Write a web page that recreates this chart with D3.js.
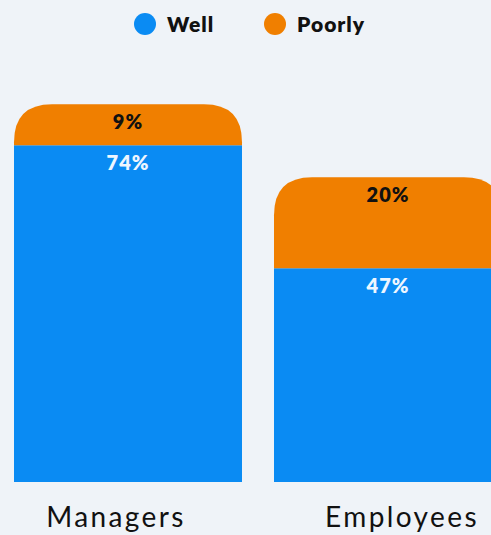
<!DOCTYPE html>
<html lang="en">
  <head>
    <meta charset="UTF-8" />
    <title>Well vs Poorly</title>
    <script src="https://d3js.org/d3.v7.min.js"></script>
    <style>
      body {
        margin: 0;
        background-color: #eff3f8;
        font-family: Lato, sans-serif;
      }
      svg {
        display: block;
      }
    </style>
  </head>
  <body>
    <svg width="491" height="535"></svg>

    <script>
      const categories = ['Managers', 'Employees'];
      const well = [74, 47];
      const poorly = [9, 20];
      const seriesNames = ['Well', 'Poorly'];
      const colors = ['#0a8bf3', '#f07f00'];
      const labelShift = [-12, 14];

      const svg = d3.select('svg');

      const x = d3
        .scaleBand()
        .domain(categories)
        .range([14, 502])
        .paddingInner(32 / 260)
        .paddingOuter(0);

      const y = d3.scaleLinear().domain([0, 100]).range([482, 27]);

      const rows = categories.map((c, i) => ({
        cat: c,
        well: well[i],
        poorly: poorly[i],
      }));

      const stack = d3.stack().keys(['well', 'poorly'])(rows);

      // rounded-top path for the top segment, plain rect for the bottom one
      function topRounded(x0, y0, w, h, r) {
        return `M${x0},${y0 + h}V${y0 + r}Q${x0},${y0} ${x0 + r},${y0}H${x0 + w - r}Q${x0 + w},${y0} ${x0 + w},${y0 + r}V${y0 + h}Z`;
      }

      stack.forEach((layer, li) => {
        svg
          .append('g')
          .selectAll('path')
          .data(layer)
          .join('path')
          .attr('fill', colors[li])
          .attr('d', (d) => {
            const x0 = x(d.data.cat);
            const y0 = y(d[1]);
            const h = y(d[0]) - y(d[1]);
            if (li === stack.length - 1) return topRounded(x0, y0, x.bandwidth(), h, 38);
            return `M${x0},${y0}h${x.bandwidth()}v${h}h${-x.bandwidth()}Z`;
          });

        svg
          .append('g')
          .selectAll('text')
          .data(layer)
          .join('text')
          .attr('x', (d) => x(d.data.cat) + x.bandwidth() / 2)
          .attr('y', (d) => y(d[1]) + 25)
          .attr('text-anchor', 'middle')
          .attr('font-size', 20)
          .attr('font-weight', 800)
          .attr('letter-spacing', 1)
          .attr('fill', li === 0 ? '#eef6ff' : '#111111')
          .text((d) => d[1] - d[0] + '%');
      });

      // category labels
      svg
        .append('g')
        .selectAll('text')
        .data(categories)
        .join('text')
        .attr('x', (d, i) => x(d) + x.bandwidth() / 2 + labelShift[i])
        .attr('y', 527)
        .attr('text-anchor', 'middle')
        .attr('font-size', 28)
        .attr('letter-spacing', 2.4)
        .attr('fill', '#111')
        .text((d) => d);

      // legend
      const legendX = [145, 275];
      const legend = svg
        .append('g')
        .selectAll('g')
        .data(seriesNames)
        .join('g')
        .attr('transform', (d, i) => `translate(${legendX[i]},24)`);

      legend.append('circle').attr('r', 11).attr('fill', (d, i) => colors[i]);

      legend
        .append('text')
        .attr('x', 22)
        .attr('y', 7.5)
        .attr('font-size', 21)
        .attr('font-weight', 800)
        .attr('letter-spacing', 1)
        .attr('fill', '#111')
        .text((d) => d);
    </script>
  </body>
</html>
